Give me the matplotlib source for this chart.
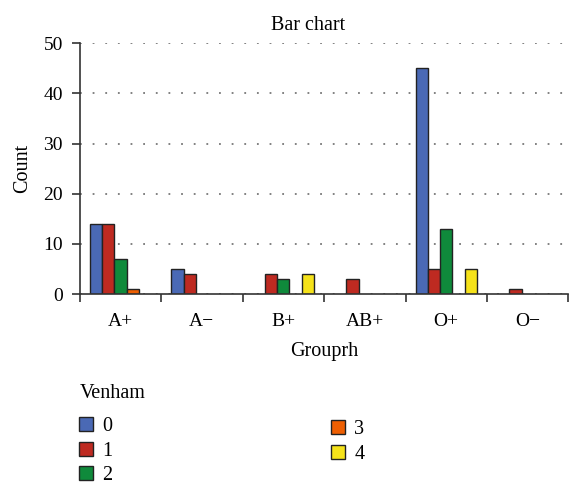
import matplotlib.pyplot as plt
import matplotlib.patches as mpatches
import numpy as np

plt.rcParams['font.family'] = ['Liberation Serif', 'DejaVu Serif']

groups = ['A+', 'A\u2212', 'B+', 'AB+', 'O+', 'O\u2212']
venham = ['0', '1', '2', '3', '4']
counts = {
    '0': [14, 5, 0, 0, 45, 0],
    '1': [14, 4, 4, 3, 5, 1],
    '2': [7, 0, 3, 0, 13, 0],
    '3': [1, 0, 0, 0, 0, 0],
    '4': [0, 0, 4, 0, 5, 0],
}
colors = ['#4a69b5', '#be2a21', '#0f8a3b', '#ee5f02', '#f5e21a']

fig = plt.figure(figsize=(5.69, 4.86), dpi=100)
ax = fig.add_axes([0.140, 0.395, 0.859, 0.516])

x = np.arange(len(groups))
width = 0.15
for i, v in enumerate(venham):
    h = np.array(counts[v], dtype=float)
    keep = h > 0
    ax.bar(x[keep] + (i - 2) * width, h[keep], width, color=colors[i],
           edgecolor='#222222', linewidth=1.0, zorder=3)

ax.set_xlim(-0.5, len(groups) - 0.5)
ax.set_ylim(0, 50)
ax.set_yticks([0, 10, 20, 30, 40, 50])
ax.set_xticks(x)
ax.set_xticklabels(groups)
ax.set_xticks(np.arange(len(groups) + 1) - 0.5, minor=True)
ax.tick_params(axis='x', which='major', length=0, pad=14, labelsize=14)
ax.tick_params(axis='x', which='minor', length=6, width=1.2, color='#333333')
ax.tick_params(axis='y', length=6, width=1.2, color='#333333', pad=6, labelsize=14)

ax.yaxis.grid(True, linestyle=(0, (1, 6)), linewidth=1.3, color='#777777', zorder=0)
for s in ['top', 'right']:
    ax.spines[s].set_visible(False)
for s in ['left', 'bottom']:
    ax.spines[s].set_color('#333333')
    ax.spines[s].set_linewidth(1.2)
ax.spines['bottom'].set_zorder(4)

ax.set_ylabel('Count', fontsize=14.5, labelpad=8)
ax.set_xlabel('Grouprh', fontsize=14.5, labelpad=8)
fig.text(308 / 569, 1 - 26 / 486, 'Bar chart', ha='center', va='center', fontsize=14.5)

# legend
handles = [mpatches.Patch(facecolor=c, edgecolor='#222222', linewidth=1.0) for c in colors]
fig.text(80 / 569, 1 - 393 / 486, 'Venham', ha='left', va='center', fontsize=14.5)
leg_kw = dict(frameon=False, fontsize=14.5, handlelength=0.7, handleheight=0.7,
              handletextpad=0.45, labelspacing=0.27, borderpad=0, borderaxespad=0,
              loc='upper left')
leg1 = fig.legend(handles[:3], venham[:3], bbox_to_anchor=(79 / 569, 1 - 417 / 486), **leg_kw)
leg2 = fig.legend(handles[3:], venham[3:], bbox_to_anchor=(331 / 569, 1 - 420 / 486), **leg_kw)

fig.savefig('out.png', dpi=100)
